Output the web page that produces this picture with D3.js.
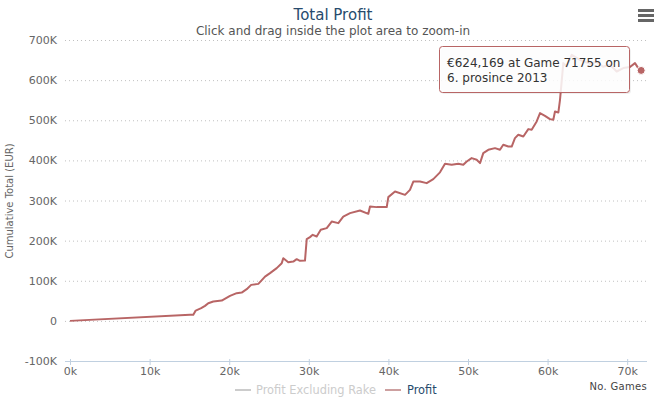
<!DOCTYPE html>
<html>
<head>
<meta charset="utf-8">
<script src="https://cdn.jsdelivr.net/npm/d3@7"></script>
<style>
  body { margin: 0; background: #fff; }
  svg { font-family: "DejaVu Sans", Verdana, sans-serif; }
</style>
</head>
<body>
<div id="chart"></div>
<script>
// number of games played
var games = [0, 15075, 15490, 15790, 16480, 16960, 17370, 18000, 19060, 20100, 20940, 21570, 22200, 22760,
  23660, 24500, 25130, 25970, 26600, 26800, 27420, 28050, 28480, 28890, 29520, 29740, 30150, 30490,
  30990, 31500, 32250, 32880, 33710, 34330, 35180, 36430, 37480, 37690, 38530, 39790, 39990, 40830,
  42090, 42710, 43130, 43970, 44810, 45640, 46480, 47110, 47950, 48780, 49410, 49840, 50460, 51090,
  51510, 51920, 52550, 53390, 54020, 54430, 55060, 55490, 55900, 56320, 56950, 57580, 58000, 58630,
  59050, 59670, 60300, 60720, 60930, 61350, 61560, 61900, 61970, 62400, 63030, 64070, 65330, 66170,
  66960, 67840, 68680, 69510, 70350, 70980, 71390, 71755]
// cumulative profit in EUR
var profit = [0, 15000, 15000, 25700, 31700, 37400, 44100, 48100, 50600, 62300, 69100, 70600, 79000, 89700,
  92200, 110400, 118900, 131400, 143800, 156300, 146300, 147800, 153800, 149600, 150300, 203700, 208700, 214400,
  210200, 226900, 231100, 247600, 243600, 260000, 268500, 275000, 266800, 285000, 283500, 283500, 308400, 322300,
  314100, 326600, 347300, 347300, 343300, 353300, 370200, 391400, 388900, 391400, 388900, 397100, 405600, 401400,
  393100, 418100, 426300, 430500, 426300, 438800, 434500, 434500, 455500, 463700, 459500, 477900, 476200, 496900,
  517800, 511100, 502800, 501100, 521800, 519300, 551000, 625700, 642400, 634000, 663100, 650700, 640700, 645700,
  633300, 638200, 621500, 630000, 632500, 642400, 630000, 624169]

var yTicks = [-100000, 0, 100000, 200000, 300000, 400000, 500000, 600000, 700000]
var xTicks = [0, 10000, 20000, 30000, 40000, 50000, 60000, 70000]
var seriesNames = ["Profit Excluding Rake", "Profit"]
var tooltipLines = ["\u20ac624,169 at Game 71755 on", "6. prosince 2013"]

var W = 662, H = 399
var lineColor = "#b86565"

var svg = d3.select("#chart").append("svg")
  .attr("width", W).attr("height", H)

var x = d3.scaleLinear().domain([-630, 72490]).range([65, 647])
var y = d3.scaleLinear().domain([-100000, 700000]).range([361, 40])

// title
svg.append("text").attr("x", 333).attr("y", 20).attr("text-anchor", "middle")
  .style("font-size", "15px").style("fill", "#274b6d").text("Total Profit")
svg.append("text").attr("x", 333).attr("y", 35).attr("text-anchor", "middle")
  .style("font-size", "12px").style("fill", "#555").text("Click and drag inside the plot area to zoom-in")

// menu button
svg.append("g").selectAll("rect").data([0, 1, 2]).enter().append("rect")
  .attr("x", 638).attr("y", function(d) { return 9 + d * 5 }).attr("width", 16).attr("height", 3)
  .style("fill", "#666")

// y grid + labels
var yAxis = svg.append("g").attr("transform", "translate(65,0)")
  .call(d3.axisLeft(y).tickValues(yTicks).tickSize(-582).tickPadding(8)
    .tickFormat(function(d) { return d == 0 ? "0" : (d / 1000) + "K" }))
yAxis.select(".domain").remove()
yAxis.selectAll("line").attr("stroke", "#c0c0c0").attr("stroke-dasharray", "1,3")
yAxis.selectAll(".tick").filter(function(d) { return d == -100000 }).select("line").remove()
yAxis.selectAll("text").style("font-size", "11px").style("fill", "#666").style("font-family", "DejaVu Sans")

svg.append("text").attr("transform", "translate(13,201) rotate(-90)").attr("text-anchor", "middle")
  .style("font-size", "10px").style("fill", "#666").text("Cumulative Total (EUR)")

// x axis
var xAxis = svg.append("g").attr("transform", "translate(0,361)")
  .call(d3.axisBottom(x).tickValues(xTicks).tickSize(4).tickPadding(2)
    .tickFormat(function(d) { return (d / 1000) + "k" }))
xAxis.select(".domain").attr("stroke", "#c0d0e0").attr("d", "M65,0.5H647")
xAxis.selectAll("line").attr("stroke", "#c0d0e0").attr("y1", -2)
xAxis.selectAll("text").style("font-size", "11px").style("fill", "#666").style("font-family", "DejaVu Sans")

svg.append("text").attr("x", 647).attr("y", 390).attr("text-anchor", "end")
  .style("font-size", "10px").style("fill", "#444").style("letter-spacing", "0.3px").text("No. Games")

// profit line
var pts = games.map(function(g, i) { return [g, profit[i]] })
var line = d3.line().x(function(d) { return x(d[0]) }).y(function(d) { return y(d[1]) })
svg.append("path").datum(pts).attr("d", line)
  .attr("fill", "none").attr("stroke", lineColor).attr("stroke-width", 2).attr("stroke-linejoin", "round")

var last = pts[pts.length - 1]
svg.append("circle").attr("cx", x(last[0])).attr("cy", y(last[1])).attr("r", 4)
  .attr("fill", lineColor).attr("stroke", "#fff").attr("stroke-width", 1)

// legend
var legend = svg.append("g")
legend.append("line").attr("x1", 235).attr("x2", 251).attr("y1", 390).attr("y2", 390)
  .attr("stroke", "#ccc").attr("stroke-width", 2)
legend.append("text").attr("x", 256).attr("y", 394).style("font-size", "11.4px").style("fill", "#ccc").text(seriesNames[0])
legend.append("line").attr("x1", 385).attr("x2", 401).attr("y1", 390).attr("y2", 390)
  .attr("stroke", "#cda0a0").attr("stroke-width", 2)
legend.append("text").attr("x", 407).attr("y", 394).style("font-size", "11.4px").style("fill", "#274b6d").text(seriesNames[1])

// tooltip
var tip = svg.append("g").attr("transform", "translate(439,46)")
tip.append("rect").attr("x", 2).attr("y", 2).attr("width", 190).attr("height", 46).attr("rx", 3)
  .attr("fill", "rgba(0,0,0,0.06)")
tip.append("rect").attr("x", 0.5).attr("y", 0.5).attr("width", 190).attr("height", 46).attr("rx", 3)
  .attr("fill", "rgba(255,255,255,0.85)").attr("stroke", lineColor).attr("stroke-width", 1)
tip.selectAll("text.tl").data(tooltipLines).enter().append("text").attr("class", "tl")
  .attr("x", 8).attr("y", function(d, i) { return 21 + i * 15 })
  .style("font-size", "12px").style("fill", "#333").text(function(d) { return d })
</script>
</body>
</html>
